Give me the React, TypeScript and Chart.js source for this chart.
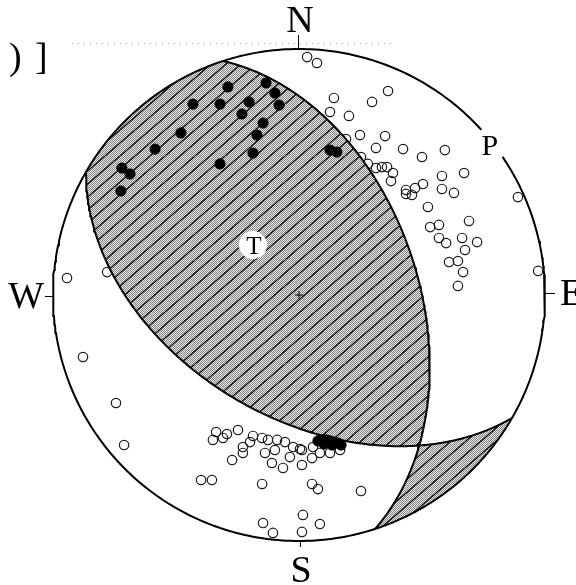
import React, { useEffect, useRef } from "react";
import { Chart, registerables } from "chart.js";

Chart.register(...registerables);

// Nodal planes of the focal mechanism (degrees), lower-hemisphere equal-area net
const PLANE_STRIKES = [342, 120];
const PLANE_DIPS = [50, 49];

// Open circles (projected net coordinates, primitive radius = 1)
const OPEN_X = [
  0.033, 0.073, 0.142, 0.126, 0.203, 0.297, 0.362, 0.248, 0.35, 0.191,
  0.313, 0.423, 0.5, 0.593, 0.252, 0.28, 0.313, 0.337, 0.358, 0.382,
  0.374, 0.504, 0.581, 0.671, 0.581, 0.63, 0.435, 0.472, 0.459, 0.435,
  0.89, 0.524, 0.691, 0.533, 0.569, 0.569, 0.598, 0.663, 0.724, 0.675,
  0.61, 0.646, 0.667, 0.646, 0.972, -0.943, -0.78, -0.878, -0.744, -0.711,
  -0.337, -0.293, -0.248, -0.35, -0.309, -0.187, -0.15, -0.126, -0.089, -0.057,
  -0.024, 0.004, -0.199, -0.228, -0.228, -0.138, -0.098, -0.037, 0.012, 0.057,
  0.085, 0.126, 0.167, -0.272, -0.11, -0.065, 0.012, 0.053, -0.398, -0.354,
  -0.15, 0.053, 0.077, 0.252, 0.016, 0.085, -0.146, -0.106, 0.012,
];
const OPEN_Y = [
  0.967, 0.943, 0.801, 0.744, 0.728, 0.785, 0.829, 0.65, 0.646, 0.634,
  0.598, 0.593, 0.561, 0.589, 0.561, 0.533, 0.516, 0.52, 0.52, 0.496,
  0.463, 0.451, 0.484, 0.496, 0.431, 0.415, 0.427, 0.435, 0.407, 0.411,
  0.398, 0.358, 0.301, 0.276, 0.285, 0.232, 0.211, 0.232, 0.215, 0.183,
  0.134, 0.138, 0.093, 0.037, 0.098, 0.069, 0.093, -0.252, -0.439, -0.61,
  -0.557, -0.565, -0.549, -0.589, -0.581, -0.573, -0.581, -0.589, -0.589, -0.598,
  -0.618, -0.626, -0.598, -0.618, -0.642, -0.642, -0.63, -0.659, -0.63, -0.618,
  -0.642, -0.642, -0.63, -0.671, -0.683, -0.703, -0.691, -0.663, -0.752, -0.752,
  -0.768, -0.768, -0.789, -0.797, -0.894, -0.931, -0.927, -0.967, -0.963,
];

// Filled circles
const FILLED_X = [
  -0.289, -0.134, -0.098, -0.081, -0.203, -0.321, -0.431, -0.232, -0.146, -0.171,
  -0.48, -0.585, -0.187, -0.321, -0.72, -0.687, -0.724, 0.126, 0.154,
  0.077, 0.093, 0.11, 0.126, 0.142, 0.159, 0.171, 0.102, 0.134,
];
const FILLED_Y = [
  0.846, 0.862, 0.821, 0.772, 0.785, 0.776, 0.776, 0.736, 0.699, 0.65,
  0.659, 0.593, 0.577, 0.533, 0.516, 0.492, 0.423, 0.589, 0.581,
  -0.593, -0.589, -0.589, -0.593, -0.598, -0.602, -0.61, -0.606, -0.61,
];

// Stress axes labels
const AXIS_LABELS = ["P", "T"];
const AXIS_X = [0.776, -0.187];
const AXIS_Y = [0.61, 0.203];

const D = Math.PI / 180;
type P = { x: number; y: number };
type V3 = [number, number, number]; // east, north, down

const norm360 = (a: number) => ((a % 360) + 360) % 360;

function strikeVec(strike: number): V3 {
  return [Math.sin(strike * D), Math.cos(strike * D), 0];
}
function dipVec(strike: number, dip: number): V3 {
  const dd = (strike + 90) * D;
  return [Math.cos(dip * D) * Math.sin(dd), Math.cos(dip * D) * Math.cos(dd), Math.sin(dip * D)];
}
function normalVec(strike: number, dip: number): V3 {
  const s = strikeVec(strike), d = dipVec(strike, dip);
  return [s[1] * d[2] - s[2] * d[1], s[2] * d[0] - s[0] * d[2], s[0] * d[1] - s[1] * d[0]];
}
function dot(a: V3, b: V3) {
  return a[0] * b[0] + a[1] * b[1] + a[2] * b[2];
}
function project(v: V3): P {
  let [e, n, dn] = v;
  if (dn < 0) { e = -e; n = -n; dn = -dn; }
  const h = Math.hypot(e, n);
  if (h < 1e-12) return { x: 0, y: 0 };
  const r = Math.sqrt(Math.max(0, 1 - dn));
  return { x: (r * e) / h, y: (r * n) / h };
}
function planeArc(strike: number, dip: number, r0: number, r1: number, steps = 90): P[] {
  const s = strikeVec(strike), d = dipVec(strike, dip);
  const pts: P[] = [];
  for (let i = 0; i <= steps; i++) {
    const l = (r0 + ((r1 - r0) * i) / steps) * D;
    const c = Math.cos(l), sn = Math.sin(l);
    pts.push(project([c * s[0] + sn * d[0], c * s[1] + sn * d[1], c * s[2] + sn * d[2]]));
  }
  return pts;
}
function primitiveArc(a0: number, a1: number, steps = 60): P[] {
  const pts: P[] = [];
  for (let i = 0; i <= steps; i++) {
    const a = (a0 + ((a1 - a0) * i) / steps) * D;
    pts.push({ x: Math.sin(a), y: Math.cos(a) });
  }
  return pts;
}
function rakeOf(v: V3, strike: number, dip: number) {
  return Math.atan2(dot(v, dipVec(strike, dip)), dot(v, strikeVec(strike))) / D;
}

// stippled grey with diagonal hatch lines
function makeHatch(): CanvasPattern | string {
  const W = 30, H = 26;
  const c = document.createElement("canvas");
  c.width = W; c.height = H;
  const g = c.getContext("2d");
  if (!g) return "#b7b7b7";
  const img = g.createImageData(W, H);
  for (let y = 0; y < H; y++) {
    for (let x = 0; x < W; x++) {
      const k = (y * W + x) * 4;
      const dark = (x + y) % 2 === 0;
      const v = dark ? 128 : 236;
      img.data[k] = v; img.data[k + 1] = v; img.data[k + 2] = v; img.data[k + 3] = 255;
    }
  }
  g.putImageData(img, 0, 0);
  g.strokeStyle = "#000";
  g.lineWidth = 1.3;
  for (const off of [-30, -15, 0, 15, 30]) {
    g.beginPath();
    g.moveTo(off, H);
    g.lineTo(off + W, 0);
    g.stroke();
  }
  return g.createPattern(c, "repeat") || "#b7b7b7";
}

const labelsPlugin = {
  id: "beachLabels",
  afterDatasetsDraw(chart: any) {
    const { ctx } = chart;
    const xs = chart.scales.x, ys = chart.scales.y;
    const px = (v: number) => xs.getPixelForValue(v);
    const py = (v: number) => ys.getPixelForValue(v);
    const cx = px(0), cy = py(0), R = px(1) - cx;
    ctx.save();
    // faint scan line at top
    ctx.strokeStyle = "#9a9a9a";
    ctx.lineWidth = 1;
    ctx.setLineDash([1, 5]);
    ctx.beginPath();
    ctx.moveTo(72, 43.5); ctx.lineTo(395, 43.5);
    ctx.stroke();
    ctx.setLineDash([]);
    // direction ticks
    ctx.strokeStyle = "#000";
    ctx.lineWidth = 1;
    ctx.beginPath();
    ctx.moveTo(cx - 0.5, cy - R); ctx.lineTo(cx - 0.5, cy - R - 14);
    ctx.moveTo(cx + 1.5, cy + R); ctx.lineTo(cx + 1.5, cy + R + 6);
    ctx.moveTo(cx - R, cy + 1.5); ctx.lineTo(cx - R - 8, cy + 1.5);
    ctx.moveTo(cx + R, cy - 1.5); ctx.lineTo(cx + R + 10, cy - 1.5);
    ctx.stroke();
    // centre cross
    ctx.beginPath();
    ctx.moveTo(cx - 4, cy); ctx.lineTo(cx + 4, cy);
    ctx.moveTo(cx, cy - 4); ctx.lineTo(cx, cy + 4);
    ctx.stroke();
    // direction letters
    ctx.fillStyle = "#000";
    ctx.font = '38px "Liberation Serif", "DejaVu Serif", serif';
    ctx.textBaseline = "alphabetic";
    ctx.textAlign = "center";
    ctx.fillText("N", cx + 1, cy - R - 17);
    ctx.fillText("S", cx + 2, cy + R + 41);
    ctx.textAlign = "right";
    ctx.fillText("W", cx - R - 9, cy + 13);
    ctx.textAlign = "left";
    ctx.fillText("E", cx + R + 15, cy + 10);
    // caption fragment at top-left
    ctx.fillText(")", 9, 69);
    ctx.fillText("]", 35, 69);
    // P and T axes
    AXIS_LABELS.forEach((lab, i) => {
      const x = px(AXIS_X[i]), y = py(AXIS_Y[i]);
      if (lab === "T") {
        ctx.fillStyle = "#fff";
        ctx.beginPath();
        ctx.arc(x, y, 14, 0, Math.PI * 2);
        ctx.fill();
        ctx.fillStyle = "#000";
        ctx.font = '25px "Liberation Serif", serif';
        ctx.textAlign = "center";
        ctx.fillText(lab, x + 1, y + 9);
      } else {
        ctx.fillStyle = "#000";
        ctx.font = '30px "Liberation Serif", serif';
        ctx.textAlign = "center";
        ctx.fillText(lab, x, y + 10);
      }
    });
    ctx.restore();
  },
};

export default function App() {
  const ref = useRef<HTMLCanvasElement>(null);
  useEffect(() => {
    const canvas = ref.current;
    if (!canvas) return;
    const hatch = makeHatch();

    const [sA, sB] = PLANE_STRIKES;
    const [dA, dB] = PLANE_DIPS;
    const nA = normalVec(sA, dA), nB = normalVec(sB, dB);
    let b: V3 = [
      nA[1] * nB[2] - nA[2] * nB[1],
      nA[2] * nB[0] - nA[0] * nB[2],
      nA[0] * nB[1] - nA[1] * nB[0],
    ];
    if (b[2] < 0) b = [-b[0], -b[1], -b[2]];
    const lamA = rakeOf(b, sA, dA);
    const lamB = rakeOf(b, sB, dB);

    // compressional quadrants (shaded), bounded by nodal planes and the primitive
    const regions: P[][] = [
      [
        ...planeArc(sA, dA, 0, lamA),
        ...planeArc(sB, dB, lamB, 180),
        ...primitiveArc(norm360(sB + 180), sA),
      ],
      [
        ...planeArc(sA, dA, lamA, 180),
        ...primitiveArc(norm360(sA + 180), sB),
        ...planeArc(sB, dB, 0, lamB),
      ],
    ];

    const pAz = Math.atan2(AXIS_X[0], AXIS_Y[0]) / D;
    const circle = primitiveArc(pAz + 4, pAz + 356, 360);

    const openPts = OPEN_X.map((x, i) => ({ x, y: OPEN_Y[i] }));
    const filledPts = FILLED_X.map((x, i) => ({ x, y: FILLED_Y[i] }));

    const OPEN_INDEX = 4;
    const shadePlugin = {
      id: "shadeQuadrants",
      afterDatasetDraw(chart: any, args: any) {
        if (args.index !== OPEN_INDEX) return;
        const { ctx } = chart;
        const xs = chart.scales.x, ys = chart.scales.y;
        ctx.save();
        ctx.fillStyle = hatch;
        for (const reg of regions) {
          ctx.beginPath();
          reg.forEach((p, i) => {
            const X = xs.getPixelForValue(p.x), Y = ys.getPixelForValue(p.y);
            if (i === 0) ctx.moveTo(X, Y); else ctx.lineTo(X, Y);
          });
          ctx.closePath();
          ctx.fill();
        }
        ctx.restore();
      },
    };

    const lineDs = (data: P[], order: number) => ({
      data,
      showLine: true,
      borderColor: "#000",
      borderWidth: 2,
      pointRadius: 0,
      fill: false,
      tension: 0,
      order,
      clip: false as const,
    });

    const chart = new Chart(canvas, {
      type: "scatter",
      data: {
        datasets: [
          {
            data: filledPts,
            pointRadius: 5.3,
            pointBackgroundColor: "#000",
            pointBorderColor: "#000",
            pointBorderWidth: 0.5,
            order: 1,
            clip: false,
          } as any,
          lineDs(circle, 2) as any,
          lineDs(planeArc(sA, dA, 0, 180, 180), 2) as any,
          lineDs(planeArc(sB, dB, 0, 180, 180), 2) as any,
          {
            data: openPts,
            pointRadius: 4.7,
            pointBackgroundColor: "rgba(255,255,255,0)",
            pointBorderColor: "#1a1a1a",
            pointBorderWidth: 1.2,
            order: 4,
            clip: false,
          } as any,
        ],
      },
      options: {
        animation: false,
        responsive: false,
        maintainAspectRatio: false,
        events: [],
        layout: { padding: { left: 53, right: 31, top: 49, bottom: 44 } },
        scales: {
          x: { type: "linear", min: -1, max: 1, display: false },
          y: { type: "linear", min: -1, max: 1, display: false },
        },
        plugins: {
          legend: { display: false },
          tooltip: { enabled: false },
        },
      },
      plugins: [shadePlugin, labelsPlugin],
    });
    return () => chart.destroy();
  }, []);

  return (
    <div style={{ position: "absolute", left: 0, top: 0, width: 576, height: 585, background: "#fff" }}>
      <canvas ref={ref} width={576} height={585} style={{ display: "block", width: 576, height: 585 }} />
    </div>
  );
}
